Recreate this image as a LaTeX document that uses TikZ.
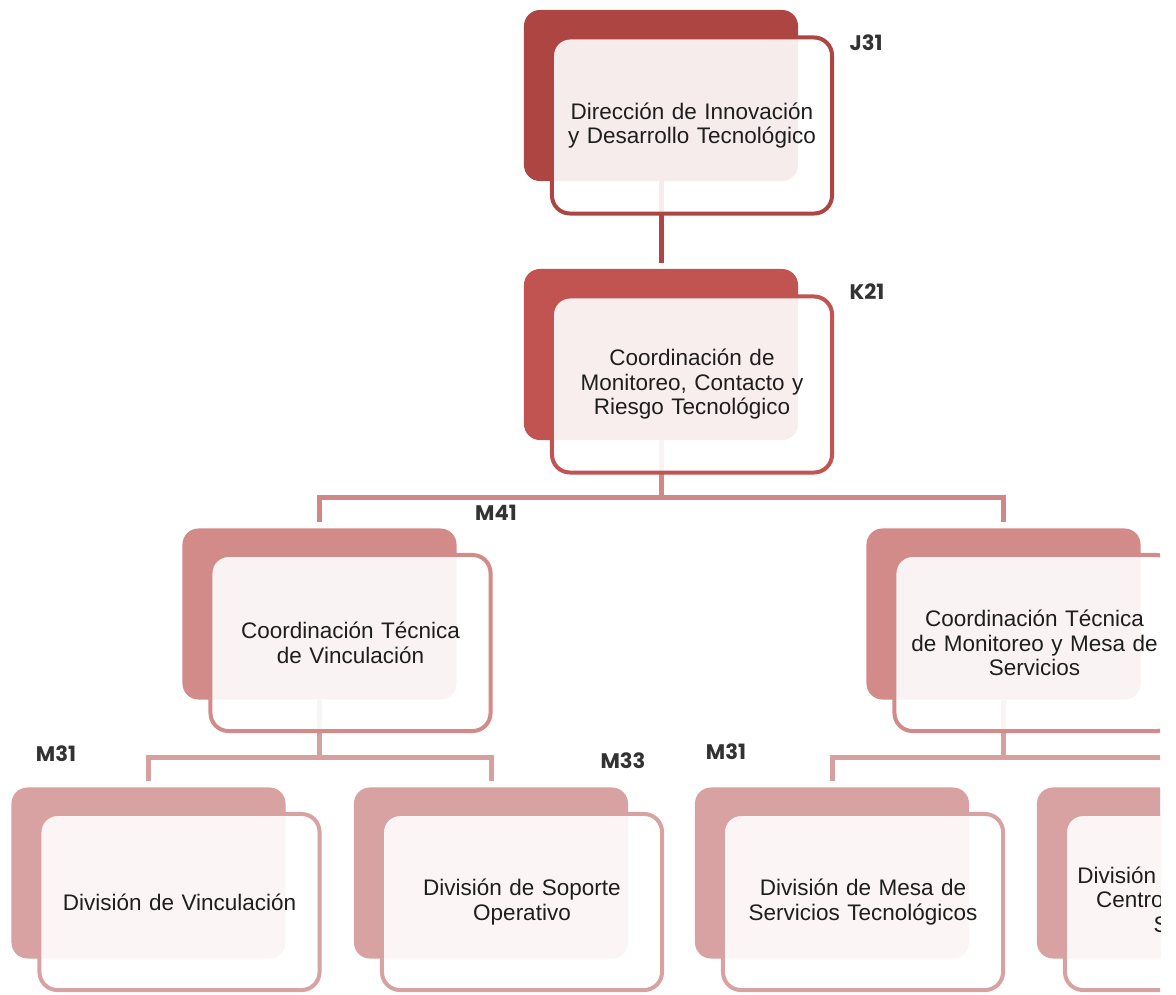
\documentclass[tikz,border=0pt]{standalone}
\usepackage{fontspec}
\setmainfont{Liberation Sans}
\newfontfamily\codefont{Poppins}
\usepackage{tikz}
\usetikzlibrary{
    positioning,
    backgrounds
}
\definecolor{lvlone}{HTML}{AD4643}
\definecolor{lvltwo}{HTML}{C15350}
\definecolor{lvlthree}{HTML}{D38B89}
\definecolor{lvlfour}{HTML}{D7A2A1}
\definecolor{linktwo}{HTML}{D08886}
\definecolor{linkthree}{HTML}{D5A09F}
\definecolor{textgray}{HTML}{1E1E1E}
\definecolor{codegray}{HTML}{333333}

\begin{document}
\begin{tikzpicture}[
            x=0.025cm, y=-0.025cm,
            back/.style={rectangle, rounded corners=0.4cm, inner sep=0pt,
                         minimum width=6.85cm, minimum height=4.275cm},
            front/.style={rectangle, rounded corners=0.45cm, line width=0.1cm,
                          fill=white, fill opacity=0.9, text opacity=1,
                          minimum width=7cm, minimum height=4.4cm, text width=6.6cm,
                          align=center, text=textgray,
                          font=\fontsize{16}{17.4}\selectfont},
            code/.style={font=\codefont\bfseries\fontsize{15}{15}\selectfont,
                         text=codegray, inner sep=0pt},
            link/.style={line width=0.125cm, shorten >=0.15cm}
        ]
            \useasboundingbox (0,0) rectangle (1176,994);
            \clip (0,0) rectangle (1160,994);

            % level 1
            \node[back, fill=lvlone] (j31b) at (661,95.5) {};
            \node[front, draw=lvlone] (j31) at ([shift={(31,30)}]j31b.center)
                {Dirección de Innovación\\ y Desarrollo Tecnológico};
            \node[code] (j31code) at (866,43) {J31};

            % level 2
            \node[back, fill=lvltwo] (k21b) at (661,354.5) {};
            \node[front, draw=lvltwo] (k21) at ([shift={(31,30)}]k21b.center)
                {Coordinación de\\ Monitoreo, Contacto y\\ Riesgo Tecnológico};
            \node[code] (k21code) at (867,292) {K21};

            % level 3
            \node[back, fill=lvlthree] (m41b) at (319.5,614) {};
            \node[front, draw=lvlthree] (m41) at ([shift={(31,29)}]m41b.center)
                {Coordinación Técnica\\ de Vinculación};
            \node[code] (m41code) at (496,513) {M41};

            \node[back, fill=lvlthree] (m42b) at (1003.5,614) {};
            \node[front, draw=lvlthree] (m42) at ([shift={(31,29)}]m42b.center)
                {Coordinación Técnica\\ de Monitoreo y Mesa de\\ Servicios};

            % level 4
            \node[back, fill=lvlfour] (d1b) at (148.5,873) {};
            \node[front, draw=lvlfour] (d1) at ([shift={(31,29)}]d1b.center)
                {División de Vinculación};
            \node[code] (d1code) at (56,754) {M31};

            \node[back, fill=lvlfour] (d2b) at (491,873) {};
            \node[front, draw=lvlfour] (d2) at ([shift={(31,29)}]d2b.center)
                {División de Soporte\\ Operativo};
            \node[code] (d2code) at (623,761) {M33};

            \node[back, fill=lvlfour] (d3b) at (832,873) {};
            \node[front, draw=lvlfour] (d3) at ([shift={(31,29)}]d3b.center)
                {División de Mesa de\\ Servicios Tecnológicos};
            \node[code] (d3code) at (726,752) {M31};

            \node[back, fill=lvlfour] (d4b) at (1174,873) {};
            \node[front, draw=lvlfour] (d4) at ([shift={(31,29)}]d4b.center)
                {División de Operación de\\ Centro de Cómputo y\\ Seguridad};

            % connectors
            \coordinate (k21j) at (661,497);
            \coordinate (m41j) at (319.5,757);
            \coordinate (m42j) at (1003.5,757);

            \begin{scope}[on background layer]
                \clip (0,0) rectangle (1160,994);
                \draw[link, lvlone] (j31b) -- (k21b);
                \draw[link, linktwo] (k21b) -- (k21j) -| (m41b);
                \draw[link, linktwo] (k21j) -| (m42b);
                \draw[link, linkthree] (m41b) -- (m41j) -| (d1b);
                \draw[link, linkthree] (m41j) -| (d2b);
                \draw[link, linkthree] (m42b) -- (m42j) -| (d3b);
                \draw[link, linkthree] (m42j) -| (d4b);
            \end{scope}
        \end{tikzpicture}
\end{document}
